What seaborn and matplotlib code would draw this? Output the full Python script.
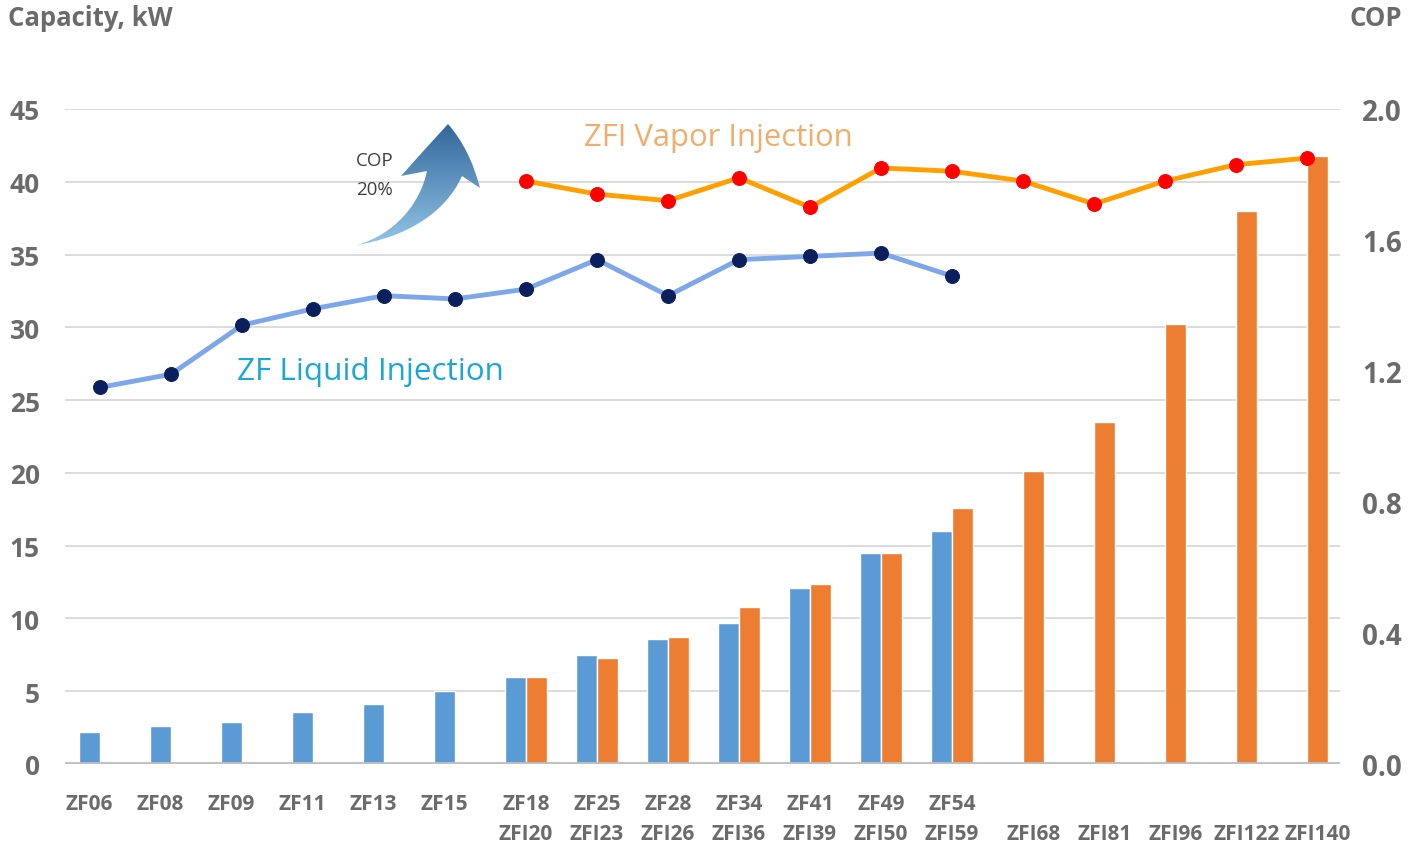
import numpy as np
import pandas as pd
import matplotlib
matplotlib.use("Agg")
import matplotlib.pyplot as plt
from matplotlib.path import Path
from matplotlib.patches import PathPatch
from matplotlib.colors import LinearSegmentedColormap
import seaborn as sns

nan = np.nan

# data
zf_models = ["ZF06", "ZF08", "ZF09", "ZF11", "ZF13", "ZF15", "ZF18", "ZF25",
             "ZF28", "ZF34", "ZF41", "ZF49", "ZF54", "", "", "", "", ""]
zfi_models = ["", "", "", "", "", "", "ZFI20", "ZFI23", "ZFI26", "ZFI36",
              "ZFI39", "ZFI50", "ZFI59", "ZFI68", "ZFI81", "ZFI96", "ZFI122", "ZFI140"]
zf_capacity = [2.2, 2.6, 2.9, 3.6, 4.1, 5.0, 6.0, 7.5, 8.6, 9.7, 12.1, 14.5, 16.0,
               nan, nan, nan, nan, nan]
zfi_capacity = [nan, nan, nan, nan, nan, nan, 6.0, 7.3, 8.7, 10.8, 12.4, 14.5, 17.6,
                20.1, 23.5, 30.2, 38.0, 41.8]
zf_cop = [1.15, 1.19, 1.34, 1.39, 1.43, 1.42, 1.45, 1.54, 1.43, 1.54, 1.55, 1.56, 1.49]
zfi_cop = [1.78, 1.74, 1.72, 1.79, 1.70, 1.82, 1.81, 1.78, 1.71, 1.78, 1.83, 1.85]
cap_ticks = [0, 5, 10, 15, 20, 25, 30, 35, 40, 45]
cop_ticks = [0.0, 0.4, 0.8, 1.2, 1.6, 2.0]

labels = [f"{a or ' '}\n{b or ' '}" for a, b in zip(zf_models, zfi_models)]
df = pd.DataFrame({
    "model": labels * 2,
    "series": ["ZF"] * len(labels) + ["ZFI"] * len(labels),
    "capacity": zf_capacity + zfi_capacity,
}).dropna()

sns.set_style("white")
plt.rcParams["font.family"] = ["Open Sans", "DejaVu Sans"]
grey = "#6B6B6B"

fig = plt.figure(figsize=(14.2, 8.45), dpi=100)
ax = fig.add_axes([65 / 1420, 1 - 765 / 845, 1275 / 1420, 655 / 845])

sns.barplot(data=df, x="model", y="capacity", hue="series", order=labels,
            hue_order=["ZF", "ZFI"], palette=["#5B9BD5", "#ED7D31"],
            width=0.6, saturation=1, legend=False, ax=ax, zorder=2)

# tick under the visible bar(s)
pos = []
for i, (a, b) in enumerate(zip(zf_capacity, zfi_capacity)):
    if np.isnan(b):
        pos.append(i - 0.15)
    elif np.isnan(a):
        pos.append(i + 0.15)
    else:
        pos.append(i)
ax.set_xticks(pos, labels)
ax.set_ylim(0, 45)
ax.set_yticks(cap_ticks)
ax.yaxis.grid(True, color="#D9D9D9", lw=1.3)
ax.set_axisbelow(True)
ax.axhline(0, color="#BFBFBF", lw=3.5, zorder=3)
ax.set_xlabel("")
ax.set_ylabel("")
for s in ax.spines.values():
    s.set_visible(False)
ax.tick_params(axis="x", length=0, pad=21, labelsize=15, labelcolor=grey)
ax.tick_params(axis="y", length=0, pad=18, labelsize=19, labelcolor=grey)
for t in ax.get_xticklabels():
    t.set_fontweight("bold")
    t.set_linespacing(1.55)
for t in ax.get_yticklabels():
    t.set_fontweight("bold")

ax2 = ax.twinx()
sns.lineplot(x=np.arange(len(zf_cop)), y=zf_cop, ax=ax2, color="#7DA7E8", lw=3.5,
             marker="o", markersize=10, markerfacecolor="#0B1F5C",
             markeredgecolor="#0B1F5C")
sns.lineplot(x=np.arange(6, 6 + len(zfi_cop)), y=zfi_cop, ax=ax2, color="#FFA000",
             lw=3.5, marker="o", markersize=10, markerfacecolor="#FF0000",
             markeredgecolor="#FF0000")
ax2.set_ylim(0, 2.0)
ax2.set_yticks(cop_ticks, [f"{v:.1f}" for v in cop_ticks])
ax2.set_ylabel("")
for s in ax2.spines.values():
    s.set_visible(False)
ax2.tick_params(axis="y", length=0, pad=16, labelsize=20, labelcolor=grey)
for t in ax2.get_yticklabels():
    t.set_fontweight("bold")
ax.set_xlim(-0.493, 17.465)

# overlay in pixel coordinates for titles, labels and the arrow
ov = fig.add_axes([0, 0, 1, 1], zorder=10)
ov.set_xlim(0, 1420)
ov.set_ylim(845, 0)
ov.axis("off")
ov.patch.set_alpha(0)

ov.text(8, 18, "Capacity, kW", fontsize=18.5, fontweight="bold", color=grey, va="center")
ov.text(1402, 18, "COP", fontsize=18.5, fontweight="bold", color=grey, va="center", ha="right")
ov.text(584, 138, "ZFI Vapor Injection", fontsize=22.3, color="#F0AE6A", va="center")
ov.text(237, 372, "ZF Liquid Injection", fontsize=22.6, color="#1AA7D4", va="center")
ov.text(356, 161, "COP", fontsize=13.5, color="#404040", va="center")
ov.text(356, 190, "20%", fontsize=13.5, color="#404040", va="center")

verts = [(357, 246), (405, 238), (445, 215), (462, 177),
         (480, 189),
         (470, 150), (448, 125),
         (425, 150), (401, 177),
         (427, 172),
         (420, 205), (395, 235), (357, 246),
         (357, 246)]
codes = [Path.MOVETO, Path.CURVE4, Path.CURVE4, Path.CURVE4,
         Path.LINETO,
         Path.CURVE3, Path.CURVE3,
         Path.CURVE3, Path.CURVE3,
         Path.LINETO,
         Path.CURVE4, Path.CURVE4, Path.CURVE4,
         Path.CLOSEPOLY]
arrow = PathPatch(Path(verts, codes), facecolor="none", edgecolor="none")
ov.add_patch(arrow)
cmap = LinearSegmentedColormap.from_list("arr", ["#2F6397", "#95C8EA"])
grad = np.linspace(0, 1, 256).reshape(-1, 1)
im = ov.imshow(grad, cmap=cmap, extent=(350, 485, 250, 120), origin="upper",
               aspect="auto", interpolation="bicubic")
im.set_clip_path(arrow)
ov.set_xlim(0, 1420)
ov.set_ylim(845, 0)

fig.savefig("out.png", dpi=100)
